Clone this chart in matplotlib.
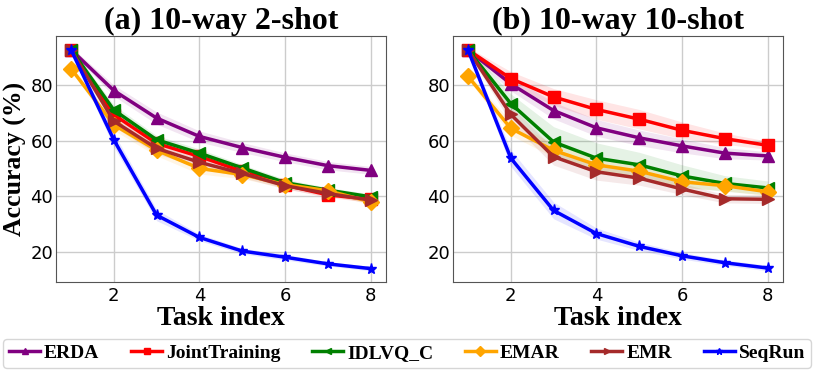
import numpy as np
import matplotlib
matplotlib.use("Agg")
import matplotlib.pyplot as plt


TASKS = [1, 2, 3, 4, 5, 6, 7, 8]
METHODS = ["ERDA", "JointTraining", "IDLVQ_C", "EMAR", "EMR", "SeqRun"]
COLORS = ["purple", "red", "green", "orange", "brown", "blue"]
MARKERS = ["^", "s", "<", "D", ">", "*"]

# (a) 10-way 2-shot
erda_a = [92.7, 78.0, 68.1, 61.5, 57.5, 54.0, 51.0, 49.3]
joint_a = [92.7, 69.3, 59.0, 54.3, 49.0, 44.0, 40.5, 38.9]
idlvq_a = [92.7, 71.0, 60.3, 55.5, 50.2, 44.9, 42.2, 39.8]
emar_a = [85.9, 65.7, 56.5, 50.0, 47.8, 44.2, 42.0, 38.0]
emr_a = [92.7, 67.0, 57.2, 52.2, 48.2, 43.8, 41.0, 38.6]
seq_a = [92.7, 60.3, 33.2, 25.2, 20.3, 18.1, 15.7, 14.0]

std_erda_a = [1.0, 2.0, 2.2, 2.0, 1.8, 1.6, 1.5, 1.4]
std_joint_a = [1.0, 1.5, 1.5, 1.5, 1.2, 1.2, 1.0, 1.0]
std_idlvq_a = [1.0, 1.8, 1.5, 1.5, 1.2, 1.2, 1.0, 1.0]
std_emar_a = [1.0, 2.0, 2.0, 2.0, 1.5, 1.2, 1.2, 1.0]
std_emr_a = [1.0, 2.0, 2.0, 1.8, 1.5, 1.2, 1.0, 1.0]
std_seq_a = [1.0, 2.5, 2.0, 1.2, 1.0, 1.0, 0.8, 0.8]

# (b) 10-way 10-shot
erda_b = [92.6, 80.4, 70.8, 64.6, 61.0, 58.1, 55.5, 54.5]
joint_b = [92.6, 82.3, 75.7, 71.2, 67.7, 63.7, 60.7, 58.3]
idlvq_b = [92.6, 73.3, 59.5, 53.7, 51.3, 47.3, 44.6, 43.0]
emar_b = [83.1, 64.4, 56.5, 51.3, 49.0, 45.2, 43.8, 41.6]
emr_b = [92.6, 69.4, 54.2, 48.8, 46.5, 42.6, 39.1, 38.9]
seq_b = [92.6, 53.7, 34.9, 26.6, 22.0, 18.6, 16.1, 14.2]

std_erda_b = [1.0, 2.5, 3.0, 3.0, 2.8, 2.5, 2.0, 1.5]
std_joint_b = [1.0, 2.5, 3.0, 3.5, 3.5, 3.0, 2.0, 1.5]
std_idlvq_b = [1.0, 3.5, 5.5, 5.5, 4.5, 4.0, 2.8, 2.5]
std_emar_b = [1.0, 2.5, 2.5, 2.5, 2.0, 2.0, 1.8, 1.5]
std_emr_b = [1.0, 3.0, 3.0, 3.0, 2.5, 2.0, 1.5, 1.5]
std_seq_b = [1.0, 3.0, 3.0, 2.0, 1.5, 1.2, 1.0, 1.0]

panels = [
    ("(a) 10-way 2-shot",
     [erda_a, joint_a, idlvq_a, emar_a, emr_a, seq_a],
     [std_erda_a, std_joint_a, std_idlvq_a, std_emar_a, std_emr_a, std_seq_a]),
    ("(b) 10-way 10-shot",
     [erda_b, joint_b, idlvq_b, emar_b, emr_b, seq_b],
     [std_erda_b, std_joint_b, std_idlvq_b, std_emar_b, std_emr_b, std_seq_b]),
]

SERIF = "Liberation Serif"

fig = plt.figure(figsize=(8.14, 3.71), dpi=100)
ax_a = fig.add_axes([0.0688, 0.240, 0.405, 0.663])
ax_b = fig.add_axes([0.5565, 0.240, 0.405, 0.663])

handles = []
for ax, (title, series, stds) in zip([ax_a, ax_b], panels):
    for name, col, mk, vals, sd in zip(METHODS, COLORS, MARKERS, series, stds):
        vals = np.array(vals)
        sd = np.array(sd)
        ax.fill_between(TASKS, vals - sd, vals + sd, color=col, alpha=0.1, lw=0)
        h, = ax.plot(TASKS, vals, color=col, marker=mk, lw=2.5, ms=8, label=name)
        if ax is ax_a:
            handles.append(h)
    ax.set_xlim(0.65, 8.35)
    ax.set_ylim(9.2, 97.6)
    ax.set_xticks([2, 4, 6, 8])
    ax.set_yticks([20, 40, 60, 80])
    ax.tick_params(labelsize=13, length=0, pad=3.5)
    ax.tick_params(axis="y", pad=2)
    ax.grid(True, color="#cccccc", lw=1)
    ax.set_axisbelow(True)
    for sp in ax.spines.values():
        sp.set_color("#555555")
    ax.set_title(title, fontfamily=SERIF, fontweight="bold", fontsize=23, pad=5)
    ax.set_xlabel("Task index", fontfamily=SERIF, fontweight="bold", fontsize=20, labelpad=1)

ax_a.set_ylabel("Accuracy (%)", fontfamily=SERIF, fontweight="bold", fontsize=18.5)
ax_a.yaxis.set_label_coords(-0.087, 0.5)

fig.legend(handles=handles, loc="lower left", bbox_to_anchor=(0.004, 0.008, 0.992, 0.08),
           mode="expand", ncol=6, borderaxespad=0.0,
           prop={"family": SERIF, "weight": "bold", "size": 14},
           handlelength=1.6, handletextpad=0.2, columnspacing=0.4,
           borderpad=0.3, markerscale=0.6, frameon=True, fancybox=True)

fig.savefig("out.png", dpi=100)
